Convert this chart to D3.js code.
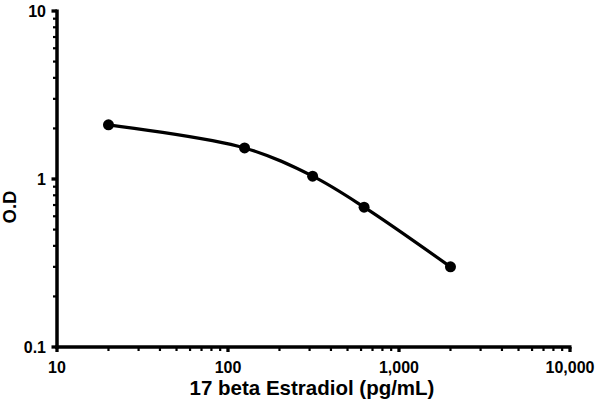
<!DOCTYPE html>
<html><head><meta charset="utf-8">
<script src="https://cdn.jsdelivr.net/npm/d3@7"></script>
<style>body{margin:0;background:#fff}svg text{font-family:"Liberation Sans",Arial,sans-serif;font-weight:bold;fill:#000}</style>
</head><body>
<svg id="c" width="597" height="403"></svg>
<script>
const concentrations = [20, 125, 312.5, 625, 2000];
const odValues = [2.10, 1.53, 1.04, 0.68, 0.30];
const xTickValues = [10, 100, 1000, 10000];
const xTickLabels = ["10", "100", "1,000", "10,000"];
const yTickValues = [0.1, 1, 10];
const yTickLabels = ["0.1", "1", "10"];
const xTitle = "17 beta Estradiol (pg/mL)";
const yTitle = "O.D";

const svg = d3.select("#c");
const x = d3.scaleLog().domain([10, 10000]).range([57, 570]);
const y = d3.scaleLog().domain([0.1, 10]).range([347, 11]);

function minors(lo, hi){const r=[];for(let d=lo;d<hi;d*=10){for(let k=2;k<=9;k++)r.push(d*k);}return r;}

const g = svg.append("g");
g.selectAll("line.mx").data(minors(10,10000)).join("line")
  .attr("x1",d=>x(d)).attr("x2",d=>x(d)).attr("y1",347).attr("y2",351)
  .attr("stroke","#000").attr("stroke-width",2.2);
g.selectAll("line.my").data(minors(0.1,10)).join("line")
  .attr("y1",d=>y(d)).attr("y2",d=>y(d)).attr("x1",57).attr("x2",53)
  .attr("stroke","#000").attr("stroke-width",2.2);

g.selectAll("line.Mx").data(xTickValues).join("line")
  .attr("x1",d=>x(d)).attr("x2",d=>x(d)).attr("y1",347).attr("y2",352)
  .attr("stroke","#000").attr("stroke-width",3.3);
g.selectAll("line.My").data(yTickValues).join("line")
  .attr("y1",d=>y(d)).attr("y2",d=>y(d)).attr("x1",57).attr("x2",51.5)
  .attr("stroke","#000").attr("stroke-width",3.3);

svg.append("line").attr("x1",x(10)).attr("x2",x(10)).attr("y1",y(10)-1.5).attr("y2",y(0.1)+1.7)
  .attr("stroke","#000").attr("stroke-width",3.5);
svg.append("line").attr("x1",x(10)-1.7).attr("x2",x(10000)+1.5).attr("y1",y(0.1)).attr("y2",y(0.1))
  .attr("stroke","#000").attr("stroke-width",3.5);

svg.selectAll("text.xl").data(xTickValues).join("text")
  .attr("x",d=>x(d)).attr("y",373).attr("text-anchor","middle")
  .style("font-size","16px").text((d,i)=>xTickLabels[i]);
svg.selectAll("text.yl").data(yTickValues).join("text")
  .attr("x",46).attr("y",d=>y(d)+5.5).attr("text-anchor","end")
  .style("font-size","16px").text((d,i)=>yTickLabels[i]);

svg.append("text").attr("x",312).attr("y",395).attr("text-anchor","middle")
  .style("font-size","20.5px").text(xTitle);
svg.append("text").attr("transform","translate(16,207) rotate(-90)").attr("text-anchor","middle")
  .style("font-size","18.5px").text(yTitle);

const data = concentrations.map((c,i)=>({c, v: odValues[i]}));
const line = d3.line().x(d=>x(d.c)).y(d=>y(d.v)).curve(d3.curveCatmullRom.alpha(0.5));
svg.append("path").datum(data).attr("d",line).attr("fill","none")
  .attr("stroke","#000").attr("stroke-width",3.2);
svg.selectAll("circle").data(data).join("circle")
  .attr("cx",d=>x(d.c)).attr("cy",d=>y(d.v)).attr("r",5.5).attr("fill","#000");
</script>
</body></html>
